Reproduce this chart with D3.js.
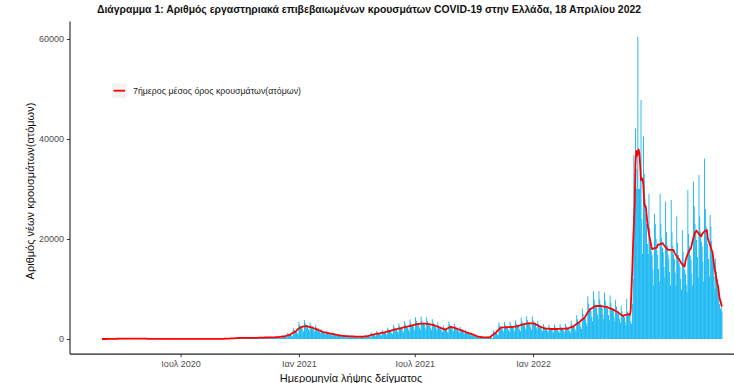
<!DOCTYPE html>
<html><head><meta charset="utf-8">
<script src="https://cdn.jsdelivr.net/npm/d3@7"></script>
<style>body{margin:0;background:#fff} svg{display:block}</style>
</head><body><svg id="c" width="734" height="383"></svg>
<script>
// Daily confirmed cases by sample date, first day 2020-02-26
const startDate = "2020-02-26";
const dailyCases = [
1,0,1,
7,6,5,5,5,4,3,
29,24,21,20,19,15,12,
73,60,53,50,48,38,30,
109,90,79,75,71,56,45,
123,102,89,85,81,64,51,
102,84,74,70,67,53,42,
87,72,63,60,57,45,36,
80,160,70,55,50,40,30,
44,36,32,30,29,23,18,
22,18,16,15,14,11,9,
17,14,13,12,11,9,7,
15,12,11,10,10,8,6,
15,12,11,10,10,8,6,
17,14,13,12,11,9,7,
20,17,15,14,13,11,8,
22,18,16,15,14,11,9,
26,22,19,18,17,14,11,
29,24,21,20,19,15,12,
32,26,23,22,21,17,13,
36,30,26,25,24,19,15,
44,36,32,30,29,23,18,
65,54,47,45,43,34,27,
116,96,84,80,76,60,48,
218,180,158,150,143,113,90,
305,252,221,210,200,158,126,
334,276,242,230,219,173,138,
320,280,250,235,215,170,140,
334,276,242,230,219,173,138,
406,336,294,280,266,210,168,
450,372,326,310,295,233,186,
464,384,336,320,304,240,192,
551,456,399,380,361,285,228,
754,624,546,520,494,390,312,
1233,1020,893,850,808,638,510,
2175,1800,1575,1500,1425,1125,900,
3480,2880,2520,2400,2280,1800,1440,
3770,3120,2730,2600,2470,1950,1560,
3335,2760,2415,2300,2185,1725,1380,
2755,2280,1995,1900,1805,1425,1140,
2030,1680,1470,1400,1330,1050,840,
1668,1380,1208,1150,1093,863,690,
1378,1140,998,950,903,713,570,
1015,840,735,700,665,525,420,
841,696,609,580,551,435,348,
754,624,546,520,494,390,312,
696,576,504,480,456,360,288,
653,540,473,450,428,338,270,
812,672,588,560,532,420,336,
1305,1080,945,900,855,675,540,
1595,1320,1155,1100,1045,825,660,
1885,1560,1365,1300,1235,975,780,
2320,1920,1680,1600,1520,1200,960,
2828,2340,2048,1950,1853,1463,1170,
3118,2580,2258,2150,2043,1613,1290,
3553,2940,2573,2450,2328,1838,1470,
3915,3240,2835,2700,2565,2025,1620,
4350,3600,3150,3000,2850,2250,1800,
4495,3720,3255,3100,2945,2325,1860,
4350,3600,3150,3000,2850,2250,1800,
3988,3300,2888,2750,2613,2063,1650,
3335,2760,2415,2300,2185,1725,1380,
2755,2280,1995,1900,1805,1425,1140,
3553,2940,2573,2450,2328,1838,1470,
3045,2520,2205,2100,1995,1575,1260,
2465,2040,1785,1700,1615,1275,1020,
1813,1500,1313,1250,1188,938,750,
1305,1080,945,900,855,675,540,
653,540,473,450,428,338,270,
464,384,336,320,304,240,192,
508,420,368,350,333,263,210,
1740,1440,1260,1200,1140,900,720,
3335,2760,2415,2300,2185,1725,1380,
3408,2820,2468,2350,2233,1763,1410,
3480,2880,2520,2400,2280,1800,1440,
3698,3060,2678,2550,2423,1913,1530,
4278,3540,3098,2950,2803,2213,1770,
4568,3780,3308,3150,2993,2363,1890,
4495,3720,3255,3100,2945,2325,1860,
3625,3000,2625,2500,2375,1875,1500,
3045,2520,2205,2100,1995,1575,1260,
2900,2400,2100,2000,1900,1500,1200,
2900,2400,2100,2000,1900,1500,1200,
2973,2460,2153,2050,1948,1538,1230,
3045,2520,2205,2100,1995,1575,1260,
3625,3000,2625,2500,2375,1875,1500,
4785,3960,3465,3300,3135,2475,1980,
6090,5040,4410,4200,3990,3150,2520,
8555,7080,6195,5900,5605,4425,3540,
9570,7920,6930,6600,6270,4950,3960,
9570,7920,6930,6600,6270,4950,3960,
9280,7680,6720,6400,6080,4800,3840,
8700,7200,6300,6000,5700,4500,3600,
7830,6480,5670,5400,5130,4050,3240,
6670,5520,4830,4600,4370,3450,2760,
8000,5500,5000,5000,4800,3500,3000,
7000,12000,36800,30000,42100,30000,34000,
60460,30000,30000,33000,47800,24000,17000,
40500,33000,28000,25000,23000,19000,17000,
29000,22200,19400,17600,16700,13900,10700,
25000,23000,20000,17800,16800,14000,11500,
29000,23000,20200,18200,17300,14400,12300,
27500,21400,18700,16900,16000,13400,10700,
27800,21300,18600,16900,16000,13300,10700,
24500,19200,16800,15200,14400,12000,9900,
21800,17400,15200,13800,13000,10900,9400,
29800,21000,18500,16700,15800,13000,10700,
31500,26500,23000,21000,19800,16400,12300,
32800,24500,21500,19500,18500,15500,11500,
36100,26000,22500,20500,19000,16000,12500,
24800,22500,19500,17000,15500,12500,10000,
16100,13500,12000,10500,9000,7000,6000,
7500,5500
];
const yTicks = [0, 20000, 40000, 60000];
const xTickDays = [99, 248, 394, 543];
const xTickLabels = ["Ιουλ 2020", "Ιαν 2021", "Ιουλ 2021", "Ιαν 2022"];
const titleText = "Διάγραμμα 1: Αριθμός εργαστηριακά επιβεβαιωμένων κρουσμάτων COVID-19 στην Ελλάδα, 18 Απριλίου 2022";
const legendLabel = "7ήμερος μέσος όρος κρουσμάτων(ατόμων)";
const xTitle = "Ημερομηνία λήψης δείγματος";
const yTitle = "Αριθμός νέων κρουσμάτων(ατόμων)";

const W = 734, H = 383;
const svg = d3.select("#c");
const FONT = "'Liberation Sans', Arial, sans-serif";

const x = d3.scaleLinear().domain([0, dailyCases.length - 1]).range([102, 722]);
const y = d3.scaleLinear().domain([0, 60000]).range([339, 39]);
const panelTop = y(63483), panelBottom = y(-3023), panelLeft = 70;

// bars
const step = x(1) - x(0), barW = step * 1.05;
svg.append("g").selectAll("rect").data(dailyCases).join("rect")
  .attr("x", (d, i) => x(i) - barW / 2)
  .attr("width", barW)
  .attr("y", d => y(d))
  .attr("height", d => y(0) - y(d))
  .attr("fill", "#00B0F0");

// 7-day (centred) moving average
const ma = dailyCases.map((v, i) =>
  d3.mean(dailyCases.slice(Math.max(0, i - 3), Math.min(dailyCases.length, i + 4))));
svg.append("path").datum(ma)
  .attr("d", d3.line().x((d, i) => x(i)).y(d => y(d)))
  .attr("fill", "none").attr("stroke", "#FF0000").attr("stroke-width", 1.8)
  .attr("stroke-linejoin", "round");

// y axis
const ya = svg.append("g").attr("transform", `translate(${panelLeft},0)`)
  .call(d3.axisLeft(y).tickValues(yTicks).tickSize(3).tickPadding(3).tickFormat(d3.format("d")));
ya.select(".domain").remove();
ya.selectAll(".tick line").attr("stroke", "#333");
ya.selectAll(".tick text").attr("fill", "#4D4D4D").style("font-family", FONT).style("font-size", "9px");
svg.append("line").attr("x1", panelLeft).attr("x2", panelLeft).attr("y1", panelTop).attr("y2", panelBottom)
  .attr("stroke", "#222").attr("stroke-width", 1.1);

// x axis
const xa = svg.append("g").attr("transform", `translate(0,${panelBottom})`)
  .call(d3.axisBottom(x).tickValues(xTickDays).tickSize(3).tickPadding(4)
    .tickFormat((d, i) => xTickLabels[i]));
xa.select(".domain").remove();
xa.selectAll(".tick line").attr("stroke", "#333");
xa.selectAll(".tick text").attr("fill", "#4D4D4D").style("font-family", FONT).style("font-size", "9px");
svg.append("line").attr("x1", panelLeft).attr("x2", W).attr("y1", panelBottom).attr("y2", panelBottom)
  .attr("stroke", "#222").attr("stroke-width", 1.1);

// titles
svg.append("text").attr("x", 369).attr("y", 13).attr("text-anchor", "middle")
  .attr("textLength", 544).attr("lengthAdjust", "spacingAndGlyphs")
  .style("font-family", "'Liberation Sans Narrow', " + FONT).style("font-weight", "bold").style("font-size", "10.5px")
  .attr("fill", "#111").text(titleText);
svg.append("text").attr("x", 351).attr("y", 382).attr("text-anchor", "middle")
  .style("font-family", FONT).style("font-size", "11px").attr("fill", "#111").text(xTitle);
svg.append("text").attr("transform", "translate(34,191) rotate(-90)").attr("text-anchor", "middle")
  .style("font-family", FONT).style("font-size", "11px").attr("fill", "#111").text(yTitle);

// legend
svg.append("rect").attr("x", 112).attr("y", 83.5).attr("width", 14.5).attr("height", 14.5).attr("fill", "#F2F2F2");
svg.append("line").attr("x1", 113.5).attr("x2", 125).attr("y1", 90.7).attr("y2", 90.7)
  .attr("stroke", "#FF0000").attr("stroke-width", 1.8);
svg.append("text").attr("x", 133).attr("y", 93.8).attr("textLength", 168).attr("lengthAdjust", "spacingAndGlyphs")
  .style("font-family", FONT).style("font-size", "8.5px").attr("fill", "#222").text(legendLabel);
</script>
</body></html>
